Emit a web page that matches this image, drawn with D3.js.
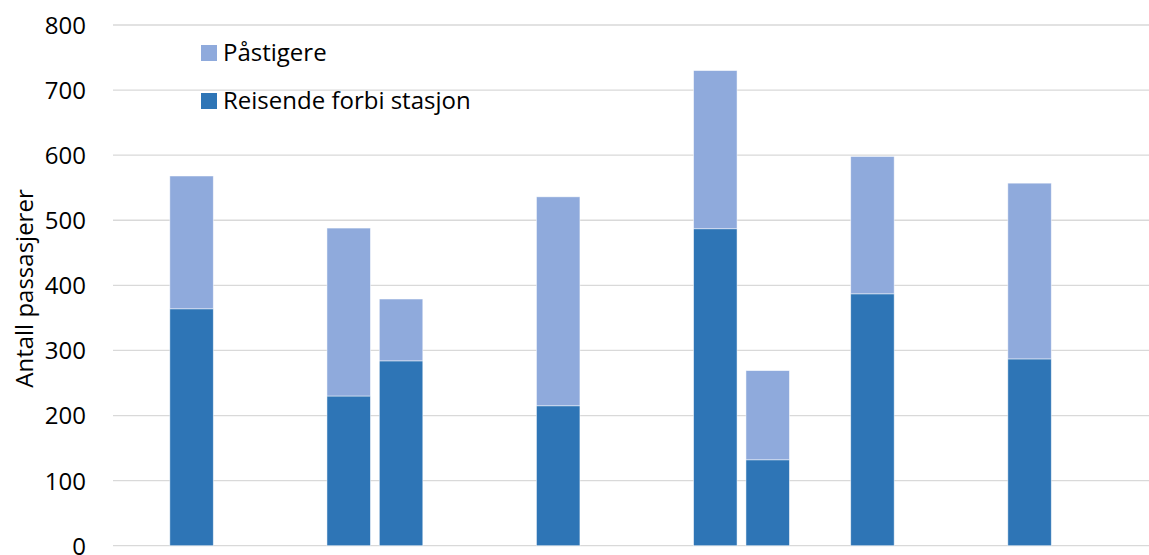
<!DOCTYPE html>
<html>
<head>
<meta charset="utf-8">
<script src="https://cdn.jsdelivr.net/npm/d3@7"></script>
<style>
  html, body { margin: 0; padding: 0; background: #fff; }
  svg { display: block; font-family: "Open Sans", "Noto Sans", sans-serif; }
</style>
</head>
<body>
<svg id="chart" width="1149" height="555"></svg>
<script>
// Category slots along the x axis (several are left empty between groups)
const categories = ["1","2","3","4","5","6","7","8","9","10","11","12","13","14","15","16","17","18","19","20"];
// Passengers passing through the station (lower segment)
const reisende = [null, 364, null, null, 230, 284, null, null, 215, null, null, 487, 132, null, 387, null, null, 287, null, null];
// Boarding passengers (upper segment)
const pastigere = [null, 204, null, null, 258, 95, null, null, 321, null, null, 243, 137, null, 211, null, null, 270, null, null];
const yTicks = [0, 100, 200, 300, 400, 500, 600, 700, 800];
const seriesNames = ["Påstigere", "Reisende forbi stasjon"];
const colors = { light: "#8FAADC", dark: "#2E75B6" };

const svg = d3.select("#chart");

const x = d3.scaleBand()
  .domain(categories)
  .range([113, 1160.5])
  .paddingInner(0.17)
  .paddingOuter(0.085);

const y = d3.scaleLinear()
  .domain([0, 800])
  .range([545.7, 25]);

// Horizontal gridlines
svg.append("g")
  .selectAll("line")
  .data(yTicks)
  .join("line")
  .attr("x1", 113)
  .attr("x2", 1160)
  .attr("y1", d => y(d))
  .attr("y2", d => y(d))
  .attr("stroke", "#d9d9d9")
  .attr("stroke-width", 1.3);

// Y axis labels
const yAxis = d3.axisLeft(y).tickValues(yTicks).tickSize(0).tickPadding(0);
const gy = svg.append("g").attr("transform", "translate(86,0)").call(yAxis);
gy.select(".domain").remove();
gy.selectAll("text")
  .attr("font-family", "'Open Sans', 'Noto Sans', sans-serif")
  .attr("font-size", 24)
  .attr("fill", "#000")
  .attr("dy", "0.35em");

// Stacked columns
const rows = categories.map((c, i) => ({ c, r: reisende[i], p: pastigere[i] }))
  .filter(d => d.r != null);

const bars = svg.append("g");
bars.selectAll("rect.dark")
  .data(rows)
  .join("rect")
  .attr("class", "dark")
  .attr("x", d => x(d.c))
  .attr("width", x.bandwidth())
  .attr("y", d => y(d.r))
  .attr("height", d => y(0) - y(d.r))
  .attr("fill", colors.dark)
  .attr("stroke", "#ffffff")
  .attr("stroke-opacity", 0.6)
  .attr("stroke-width", 0.8);

bars.selectAll("rect.light")
  .data(rows)
  .join("rect")
  .attr("class", "light")
  .attr("x", d => x(d.c))
  .attr("width", x.bandwidth())
  .attr("y", d => y(d.r + d.p))
  .attr("height", d => y(d.r) - y(d.r + d.p))
  .attr("fill", colors.light)
  .attr("stroke", "#ffffff")
  .attr("stroke-opacity", 0.6)
  .attr("stroke-width", 0.8);

// Legend
const legend = svg.append("g");
const legendItems = [
  { name: seriesNames[0], color: colors.light, cy: 53 },
  { name: seriesNames[1], color: colors.dark, cy: 101 }
];
legendItems.forEach(item => {
  legend.append("rect")
    .attr("x", 201)
    .attr("y", item.cy - 8)
    .attr("width", 16)
    .attr("height", 16)
    .attr("fill", item.color);
  legend.append("text")
    .attr("x", 223)
    .attr("y", item.cy)
    .attr("dy", "0.35em")
    .attr("font-size", 24)
    .attr("fill", "#000")
    .text(item.name);
});

// Y axis title
svg.append("text")
  .attr("transform", "translate(33,288.5) rotate(-90)")
  .attr("text-anchor", "middle")
  .attr("font-size", 24)
  .attr("fill", "#000")
  .text("Antall passasjerer");
</script>
</body>
</html>
